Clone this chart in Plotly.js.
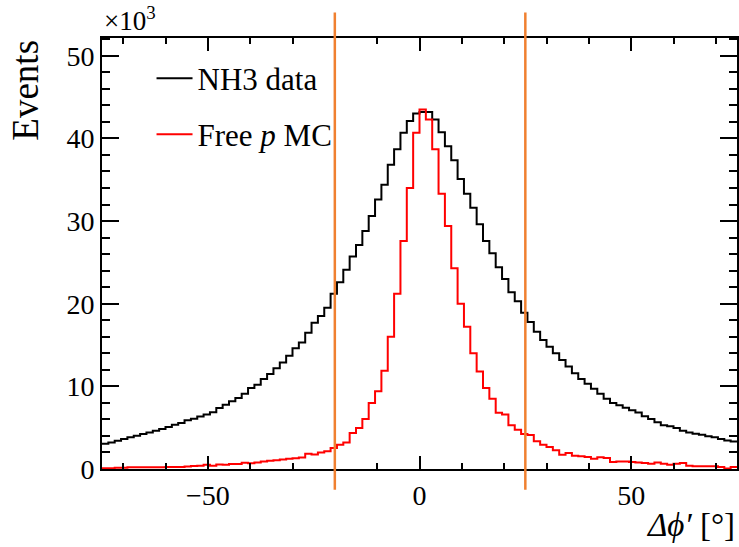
<!DOCTYPE html>
<html>
<head>
<meta charset="utf-8">
<script src="https://cdn.plot.ly/plotly-3.0.1.min.js"></script>
<style>html,body{margin:0;padding:0;background:#fff;}#chart{width:739px;height:547px;}</style>
</head>
<body>
<div id="chart"></div>
<script>
// Histogram binning (Δφ' in degrees)
const binLow = -75;
const binWidth = 1.5;

// NH3 data, events per bin (x10^3)
const nh3Data = [
  3.06, 3.22, 3.43, 3.63, 3.83, 4.03, 4.23, 4.43, 4.64, 4.84,
  5.08, 5.36, 5.57, 5.89, 6.09, 6.35, 6.60, 6.86, 7.38, 7.78,
  8.19, 8.59, 9.12, 9.80, 10.2, 10.9, 11.5, 12.2, 12.9, 13.7,
  14.6, 15.3, 16.5, 17.7, 18.5, 19.5, 21.2, 22.6, 24.1, 25.7,
  27.1, 28.8, 30.6, 32.6, 34.4, 36.8, 38.7, 40.7, 42.1, 43.0,
  43.2, 43.2, 42.3, 40.75, 39.06, 37.36, 35.1, 33.3, 31.6, 29.6,
  27.6, 26.1, 24.4, 23.0, 21.4, 20.3, 18.9, 17.8, 16.6, 15.6,
  14.8, 14.0, 13.2, 12.4, 11.6, 10.9, 10.3, 9.7, 9.1, 8.5,
  8.0, 7.7, 7.4, 7.1, 6.85, 6.37, 6.05, 5.65, 5.28, 5.16,
  4.96, 4.64, 4.43, 4.27, 4.15, 3.95, 3.83, 3.63, 3.46, 3.34
];

// Free p MC, events per bin (x10^3)
const freePMC = [
  0.10, 0.10, 0.15, 0.15, 0.20, 0.20, 0.20, 0.20, 0.20, 0.20,
  0.25, 0.25, 0.25, 0.30, 0.35, 0.40, 0.50, 0.40, 0.55, 0.50,
  0.60, 0.60, 0.75, 0.70, 0.80, 0.90, 1.00, 1.05, 1.15, 1.25,
  1.30, 1.40, 1.85, 1.75, 2.00, 2.15, 2.55, 2.94, 3.22, 4.36,
  4.96, 6.05, 8.00, 9.40, 11.9, 16.0, 21.2, 27.6, 34.0, 40.7,
  43.5, 42.3, 38.7, 33.3, 29.4, 24.3, 20.0, 17.2, 14.0, 11.8,
  9.8, 8.5, 6.8, 6.6, 5.3, 4.75, 4.25, 4.10, 3.35, 2.94,
  2.66, 2.26, 1.73, 1.93, 1.61, 1.53, 1.45, 1.25, 1.41, 1.33,
  0.85, 0.92, 0.92, 0.85, 0.80, 0.72, 0.64, 0.80, 0.64, 0.52,
  0.64, 0.72, 0.40, 0.32, 0.32, 0.32, 0.32, 0.24, 0.05, 0.25
];

// Cut positions (degrees)
const cutLines = [-20, 25];

// Series names
const seriesNames = ['NH3 data', 'Free <i>p</i> MC'];

function edgesFor(n) {
  const e = [];
  for (let i = 0; i <= n; i++) e.push(binLow + i * binWidth);
  return e;
}
function stepY(v) { return v.concat([v[v.length - 1]]); }

const serif = 'Liberation Serif';

const traces = [
  {
    type: 'scatter', mode: 'lines', name: seriesNames[0],
    x: edgesFor(nh3Data.length), y: stepY(nh3Data),
    line: {shape: 'hv', color: '#000000', width: 2},
    legend: 'legend'
  },
  {
    type: 'scatter', mode: 'lines', name: seriesNames[1],
    x: edgesFor(freePMC.length), y: stepY(freePMC),
    line: {shape: 'hv', color: '#ff0000', width: 2},
    legend: 'legend2'
  }
];

const shapes = cutLines.map(c => ({
  type: 'line', xref: 'x', yref: 'paper',
  x0: c, x1: c, y0: -0.048, y1: 1.059,
  line: {color: 'rgb(240,128,48)', width: 2.5},
  layer: 'above'
}));

const layout = {
  width: 739, height: 547,
  margin: {l: 102, r: 2, t: 38, b: 78},
  paper_bgcolor: '#ffffff', plot_bgcolor: '#ffffff',
  font: {family: serif, color: '#000', size: 28},
  showlegend: true,
  xaxis: {
    range: [-75, 75], showgrid: false, zeroline: false,
    showline: true, linecolor: '#000', linewidth: 2, mirror: 'allticks',
    ticks: 'inside', tickmode: 'linear', tick0: 0, dtick: 50, ticklen: 13, tickwidth: 2, tickcolor: '#000',
    minor: {ticks: 'inside', dtick: 10, tick0: 0, ticklen: 6, tickwidth: 2, tickcolor: '#000', showgrid: false},
    tickfont: {family: serif, size: 28, color: '#000'}
  },
  yaxis: {
    range: [0, 52.15], showgrid: false, zeroline: false,
    showline: true, linecolor: '#000', linewidth: 2, mirror: 'allticks',
    ticks: 'inside', tickmode: 'linear', tick0: 0, dtick: 10, ticklen: 17, tickwidth: 2, tickcolor: '#000',
    minor: {ticks: 'inside', dtick: 2, tick0: 0, ticklen: 8, tickwidth: 2, tickcolor: '#000', showgrid: false},
    tickfont: {family: serif, size: 28, color: '#000'}
  },
  legend: {
    x: 0.078, y: 0.906, xanchor: 'left', yanchor: 'middle',
    bgcolor: 'rgba(0,0,0,0)', borderwidth: 0, itemwidth: 36,
    font: {family: serif, size: 31, color: '#000'}
  },
  legend2: {
    x: 0.078, y: 0.776, xanchor: 'left', yanchor: 'middle',
    bgcolor: 'rgba(0,0,0,0)', borderwidth: 0, itemwidth: 36,
    font: {family: serif, size: 31, color: '#000'}
  },
  shapes: shapes,
  annotations: [
    {
      text: 'Events', xref: 'paper', yref: 'paper', x: -0.121, y: 1,
      xanchor: 'center', yanchor: 'top', textangle: -90, showarrow: false,
      font: {family: serif, size: 37, color: '#000'}
    },
    {
      text: '×10<sup>3</sup>', xref: 'paper', yref: 'paper', x: 0, y: 1,
      xanchor: 'left', yanchor: 'bottom', showarrow: false, yshift: 0,
      font: {family: serif, size: 27, color: '#000'}
    },
    {
      text: '<i>Δϕ′</i> [°]', xref: 'paper', yref: 'paper', x: 1, y: 0,
      xanchor: 'right', yanchor: 'top', yshift: -36, showarrow: false,
      font: {family: serif, size: 33, color: '#000'}
    }
  ]
};

Plotly.newPlot('chart', traces, layout, {staticPlot: true, displayModeBar: false});
</script>
</body>
</html>
